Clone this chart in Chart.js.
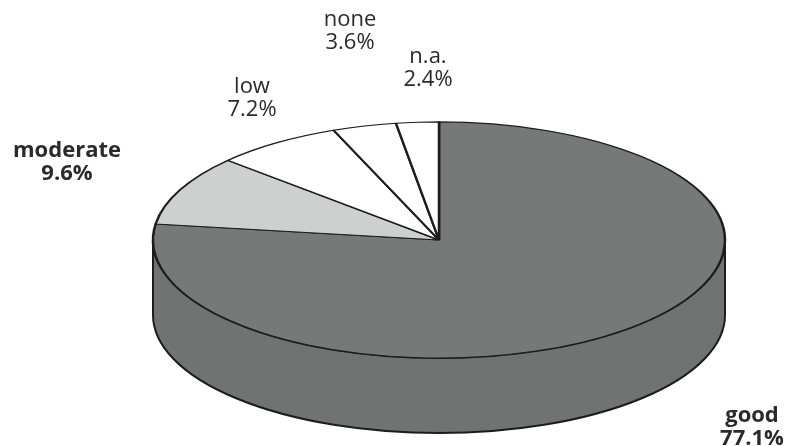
<!DOCTYPE html>
<html>
<head>
<meta charset="utf-8">
<script src="https://cdn.jsdelivr.net/npm/chart.js@4/dist/chart.umd.min.js"></script>
<style>
  html, body { margin: 0; padding: 0; background: #fff; }
  #wrap { width: 792px; height: 446px; position: relative; }
</style>
</head>
<body>
<div id="wrap"><canvas id="pie" width="792" height="446"></canvas></div>
<script>
// data
const categories = ['good', 'moderate', 'low', 'none', 'n.a.'];
const shares = [77.1, 9.6, 7.2, 3.6, 2.4];
const sliceColors = ['#757978', '#cdd0ce', '#ffffff', '#ffffff', '#ffffff'];
const boldLabels = ['good', 'moderate'];

// layout of the fake 3d disc and the labels
const TILT = 0.413;       // vertical squash of the disc
const DEPTH = 75;         // wall height in px
const TOP_CY = 240;       // screen y of the disc centre
const LABEL_AT = {
  'good':     [752, 422],
  'moderate': [67, 157],
  'low':      [252, 93],
  'none':     [350, 26],
  'n.a.':     [428, 63],
};

const disc3d = {
  id: 'disc3d',
  beforeDatasetsDraw(chart) {
    const ctx = chart.ctx;
    const arc = chart.getDatasetMeta(0).data[0];
    const cx = arc.x, rx = arc.outerRadius, ry = arc.outerRadius * TILT;
    ctx.save();
    // side wall, only the front half shows and it is all "good"
    ctx.beginPath();
    ctx.moveTo(cx - rx, TOP_CY);
    ctx.lineTo(cx - rx, TOP_CY + DEPTH);
    ctx.ellipse(cx, TOP_CY + DEPTH, rx, ry, 0, Math.PI, 0, true);
    ctx.lineTo(cx + rx, TOP_CY);
    ctx.ellipse(cx, TOP_CY, rx, ry, 0, 0, Math.PI, false);
    ctx.closePath();
    ctx.fillStyle = '#6f7371';
    ctx.fill();
    ctx.lineWidth = 2;
    ctx.strokeStyle = '#1c1c1c';
    ctx.stroke();
    // squash the top face
    ctx.translate(0, TOP_CY);
    ctx.scale(1, TILT);
    ctx.translate(0, -arc.y);
  },
  afterDatasetsDraw(chart) {
    chart.ctx.restore();
  },
  afterDraw(chart) {
    const ctx = chart.ctx;
    ctx.save();
    ctx.fillStyle = '#2a2a2a';
    ctx.textAlign = 'center';
    ctx.textBaseline = 'alphabetic';
    categories.forEach((c, i) => {
      const [x, y] = LABEL_AT[c];
      ctx.font = (boldLabels.includes(c) ? 'bold ' : '') + '22px "Open Sans", sans-serif';
      ctx.fillText(c, x, y);
      ctx.fillText(shares[i].toFixed(1) + '%', x, y + 23);
    });
    ctx.restore();
  },
};

new Chart(document.getElementById('pie'), {
  type: 'pie',
  data: {
    labels: categories,
    datasets: [{
      data: shares,
      backgroundColor: sliceColors,
      borderColor: '#1c1c1c',
      borderWidth: 2.5,
      clip: false,
    }],
  },
  options: {
    responsive: false,
    animation: false,
    events: [],
    radius: 286,
    layout: { padding: { left: 86, right: 0, top: 0, bottom: 0 } },
    plugins: {
      legend: { display: false },
      tooltip: { enabled: false },
    },
  },
  plugins: [disc3d],
});
</script>
</body>
</html>
